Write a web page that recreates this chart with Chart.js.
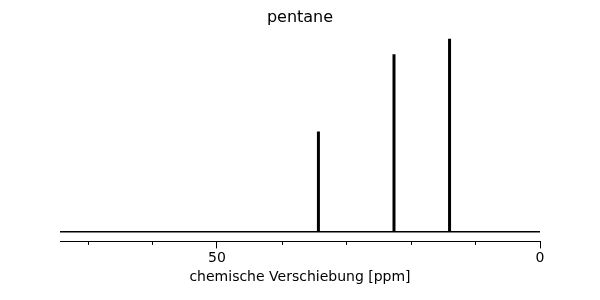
<!DOCTYPE html>
<html>
<head>
<meta charset="utf-8">
<script src="https://cdn.jsdelivr.net/npm/chart.js@4.4.0/dist/chart.umd.min.js"></script>
<style>
  html, body { margin: 0; padding: 0; background: #fff; }
  #wrap { width: 600px; height: 300px; }
</style>
</head>
<body>
<div id="wrap"><canvas id="c"></canvas></div>
<script>
// peak positions (ppm) and relative intensities
const shifts = [34.3, 22.6, 14.0];
const intensities = [0.52, 0.92, 1.0];
const xMax = 74.3;
const majorTicks = [50, 0];
const minorTicks = [70, 60, 40, 30, 20, 10];
const title = 'pentane';
const xLabel = 'chemische Verschiebung [ppm]';

// each peak: vertical stick from 0 up to its intensity, split with nulls
const sticks = [];
shifts.forEach((s, i) => {
  sticks.push({ x: s, y: 0 }, { x: s, y: intensities[i] }, { x: s, y: null });
});

const minorTickPlugin = {
  id: 'minorTicks',
  afterDraw(chart) {
    const sc = chart.scales.x;
    const ctx = chart.ctx;
    ctx.save();
    ctx.strokeStyle = '#000';
    ctx.lineWidth = 1;
    minorTicks.forEach(v => {
      const px = Math.round(sc.getPixelForValue(v)) + 0.5;
      ctx.beginPath();
      ctx.moveTo(px, sc.top);
      ctx.lineTo(px, sc.top + 3.5);
      ctx.stroke();
    });
    ctx.restore();
  }
};

Chart.defaults.font.family = '"DejaVu Sans", sans-serif';
Chart.defaults.color = '#000';

new Chart(document.getElementById('c'), {
  type: 'line',
  data: {
    datasets: [
      {
        data: [{ x: xMax, y: 0 }, { x: 0, y: 0 }],
        borderColor: '#000',
        borderWidth: 1.5,
        pointRadius: 0
      },
      {
        data: sticks,
        borderColor: '#000',
        borderWidth: 3,
        pointRadius: 0,
        spanGaps: false
      }
    ]
  },
  options: {
    responsive: true,
    maintainAspectRatio: false,
    animation: false,
    layout: { padding: { left: 60, right: 60, top: 0, bottom: 14 } },
    plugins: {
      legend: { display: false },
      tooltip: { enabled: false },
      title: {
        display: true,
        text: title,
        font: { size: 16, weight: 'normal' },
        padding: { top: 8, bottom: 2 }
      }
    },
    scales: {
      x: {
        type: 'linear',
        reverse: true,
        min: 0,
        max: xMax,
        afterBuildTicks: sc => { sc.ticks = majorTicks.map(v => ({ value: v })); },
        ticks: { font: { size: 14 }, padding: 2, maxRotation: 0 },
        grid: { drawOnChartArea: false, tickLength: 7, color: '#000', tickColor: '#000' },
        border: { color: '#000', width: 1 },
        title: { display: true, text: xLabel, font: { size: 14 }, padding: { top: 0, bottom: 0 } }
      },
      y: {
        display: false,
        min: -0.05,
        max: 1.05
      }
    }
  },
  plugins: [minorTickPlugin]
});
</script>
</body>
</html>
